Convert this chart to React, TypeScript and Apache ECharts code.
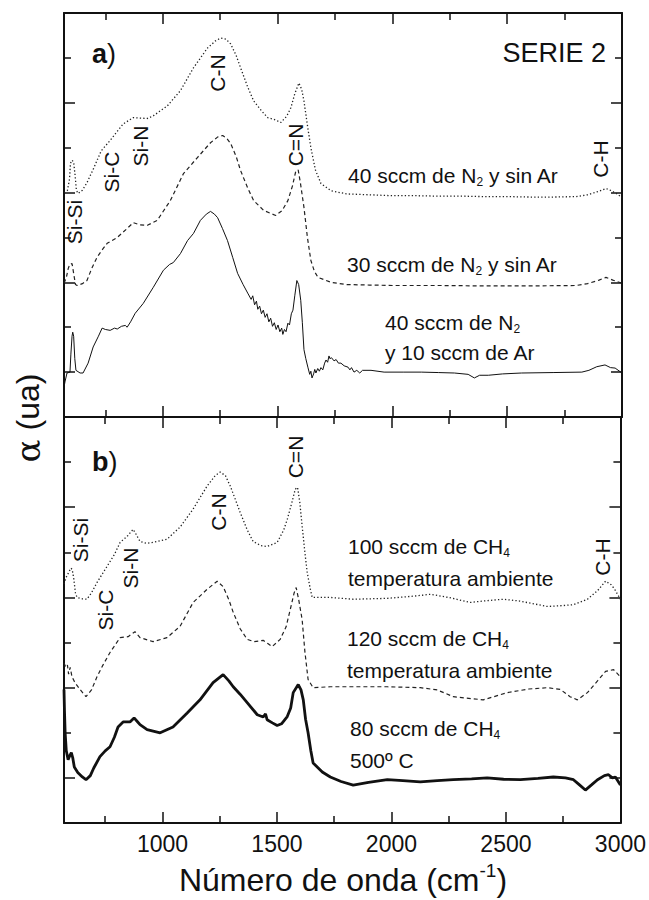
import React, { useEffect, useRef } from "react";
import * as echarts from "echarts";

// ---- axis extents and ticks ----
const X_MIN = 570;
const X_MAX = 3000;
const X_TICK_LABELS = [1000, 1500, 2000, 2500, 3000];
const X_MINOR_TICKS = [750, 1250, 1750, 2250, 2750];
const Y_MIN = 0;
const Y_MAX = 9;
const Y_MAJOR_TICKS = [1, 3, 5, 7];
const Y_MINOR_TICKS = [2, 4, 6, 8];

// ---- panel a) ----
const a_N2_40_sinAr = [
  [570, 5.0], [585, 5.05], [594, 5.3], [598, 5.65], [605, 5.72], [612, 5.68], [618, 5.4], [624, 5.05], [631, 4.98],
  [650, 5.05], [670, 5.22], [700, 5.55], [732, 5.93], [771, 6.16], [800, 6.35], [828, 6.53], [872, 6.67],
  [900, 6.66], [933, 6.65], [959, 6.71], [1020, 6.93], [1077, 7.27], [1134, 7.78], [1195, 8.22], [1230, 8.38],
  [1252, 8.44], [1275, 8.42], [1296, 8.31], [1320, 8.05], [1339, 7.78], [1370, 7.35], [1396, 7.04], [1430, 6.82],
  [1457, 6.67], [1490, 6.62], [1514, 6.56], [1540, 6.7], [1558, 6.89], [1575, 7.2], [1593, 7.44], [1605, 7.3],
  [1615, 7.04], [1630, 6.5], [1645, 6.0], [1665, 5.5], [1689, 5.2], [1733, 5.04], [1800, 4.97], [1900, 4.95],
  [2000, 4.93], [2100, 4.93], [2200, 4.92], [2300, 4.92], [2400, 4.91], [2500, 4.91], [2600, 4.9], [2700, 4.9],
  [2800, 4.91], [2850, 4.95], [2900, 5.03], [2930, 5.09], [2950, 5.05], [2975, 4.98], [3000, 4.89],
];

const a_N2_30_sinAr = [
  [570, 2.98], [580, 3.1], [588, 3.3], [595, 3.4], [605, 3.42], [612, 3.2], [620, 2.95], [627, 2.93], [650, 2.97],
  [670, 3.04], [690, 3.3], [714, 3.56], [740, 3.75], [758, 3.87], [802, 4.0], [845, 4.2], [872, 4.33], [900, 4.28],
  [933, 4.27], [976, 4.38], [1033, 4.82], [1090, 5.42], [1151, 5.78], [1208, 6.11], [1240, 6.24], [1261, 6.27],
  [1280, 6.2], [1296, 6.09], [1320, 5.8], [1339, 5.49], [1370, 5.1], [1396, 4.82], [1440, 4.6], [1492, 4.49],
  [1520, 4.6], [1545, 4.82], [1565, 5.15], [1580, 5.49], [1590, 5.5], [1600, 5.2], [1615, 4.67], [1630, 4.0],
  [1645, 3.49], [1660, 3.25], [1676, 3.11], [1733, 3.0], [1800, 2.95], [1900, 2.94], [2000, 2.93], [2200, 2.93],
  [2400, 2.92], [2600, 2.92], [2800, 2.93], [2850, 2.97], [2900, 3.05], [2930, 3.11], [2960, 3.05], [3000, 2.98],
];

const a_N2_40_Ar_10 = [
  [570, 0.67], [575, 0.8], [583, 0.98], [596, 1.0], [600, 1.4], [605, 1.8], [608, 1.89], [612, 1.8], [617, 1.3],
  [622, 1.04], [640, 0.98], [653, 0.98], [675, 1.2], [697, 1.56], [720, 1.8], [736, 1.98], [750, 1.95], [771, 1.93],
  [790, 1.98], [802, 1.96], [820, 2.02], [837, 2.04], [845, 2.0], [860, 2.12], [880, 2.31], [915, 2.53], [959, 2.89],
  [1003, 3.27], [1030, 3.4], [1046, 3.44], [1077, 3.64], [1108, 3.93], [1134, 4.09], [1164, 4.38], [1190, 4.52],
  [1208, 4.58], [1225, 4.52], [1239, 4.44], [1260, 4.2], [1282, 3.93], [1305, 3.55], [1326, 3.2], [1350, 2.95],
  [1370, 2.76], [1385, 2.62], [1392, 2.7], [1400, 2.5], [1408, 2.58], [1414, 2.4], [1422, 2.47], [1430, 2.3],
  [1438, 2.38], [1446, 2.22], [1454, 2.3], [1462, 2.12], [1470, 2.2], [1478, 2.02], [1486, 2.1], [1494, 1.95],
  [1502, 2.05], [1510, 1.9], [1518, 1.98], [1523, 1.84], [1530, 1.95], [1537, 1.9], [1545, 2.09], [1552, 2.05],
  [1560, 2.3], [1567, 2.38], [1575, 2.7], [1584, 3.04], [1592, 2.95], [1601, 2.6], [1608, 2.1], [1615, 1.5],
  [1623, 1.3], [1632, 1.11], [1640, 0.95], [1645, 1.02], [1650, 0.87], [1657, 0.96], [1662, 1.06], [1667, 0.98],
  [1675, 1.08], [1682, 1.02], [1689, 1.1], [1697, 1.05], [1705, 1.2], [1711, 1.27], [1718, 1.22], [1724, 1.36],
  [1728, 1.3], [1735, 1.32], [1746, 1.25], [1755, 1.28], [1765, 1.2], [1776, 1.2], [1790, 1.14], [1807, 1.11],
  [1815, 1.05], [1822, 1.1], [1833, 1.0], [1845, 1.04], [1858, 0.98], [1870, 1.04], [1907, 1.04], [1964, 1.0],
  [2050, 1.0], [2126, 1.0], [2200, 0.99], [2270, 0.98], [2330, 0.95], [2357, 0.87], [2380, 0.93], [2418, 0.93],
  [2480, 0.96], [2563, 0.98], [2700, 0.99], [2825, 1.0], [2856, 1.04], [2890, 1.12], [2926, 1.16], [2950, 1.1],
  [2970, 1.09], [3000, 0.98],
];

// ---- panel b) ----
const b_CH4_100 = [
  [570, 5.3], [580, 5.45], [590, 5.55], [600, 5.65], [606, 5.62], [613, 5.4], [620, 5.1], [627, 5.0], [650, 4.97],
  [670, 4.96], [690, 5.1], [714, 5.33], [758, 5.69], [790, 5.95], [815, 6.22], [845, 6.35], [872, 6.51], [885, 6.4],
  [902, 6.24], [930, 6.2], [959, 6.22], [1020, 6.29], [1077, 6.56], [1134, 6.96], [1195, 7.47], [1230, 7.7],
  [1252, 7.78], [1275, 7.7], [1296, 7.47], [1320, 7.15], [1339, 6.89], [1370, 6.5], [1396, 6.24], [1430, 6.15],
  [1457, 6.13], [1501, 6.22], [1530, 6.5], [1545, 6.73], [1565, 7.1], [1580, 7.4], [1590, 7.44], [1600, 7.1],
  [1610, 6.58], [1622, 6.0], [1632, 5.56], [1645, 5.2], [1654, 5.0], [1733, 5.0], [1833, 4.96], [1982, 4.98],
  [2100, 5.03], [2170, 5.07], [2250, 5.0], [2344, 4.89], [2420, 4.93], [2489, 4.96], [2560, 4.92], [2681, 4.8],
  [2750, 4.82], [2795, 4.84], [2856, 4.96], [2900, 5.15], [2935, 5.36], [2960, 5.28], [2975, 5.18], [3000, 4.96],
];

const b_CH4_120 = [
  [570, 3.55], [578, 3.45], [585, 3.5], [590, 3.3], [597, 3.45], [605, 3.24], [618, 3.11], [640, 2.96], [666, 2.8],
  [690, 2.95], [714, 3.24], [740, 3.5], [771, 3.78], [815, 4.11], [850, 4.13], [880, 4.24], [902, 4.11], [959, 4.02],
  [1020, 4.11], [1077, 4.36], [1134, 4.89], [1195, 5.18], [1239, 5.36], [1265, 5.24], [1290, 4.95], [1309, 4.67],
  [1340, 4.3], [1370, 4.07], [1400, 4.02], [1440, 4.05], [1460, 3.98], [1479, 3.91], [1514, 4.07], [1540, 4.35],
  [1558, 4.73], [1575, 5.1], [1584, 5.22], [1595, 4.95], [1610, 4.51], [1622, 3.8], [1636, 3.18], [1658, 3.0],
  [1733, 3.02], [1850, 3.02], [1982, 3.02], [2126, 3.0], [2200, 2.95], [2270, 2.8], [2401, 2.73], [2506, 2.89],
  [2600, 2.97], [2681, 3.0], [2738, 2.96], [2780, 2.8], [2812, 2.73], [2856, 2.89], [2900, 3.15], [2935, 3.36],
  [2970, 3.4], [3000, 3.24],
];

const b_CH4_80_500C = [
  [570, 2.96], [572, 2.5], [575, 2.0], [580, 1.6], [588, 1.4], [596, 1.5], [602, 1.56], [608, 1.45], [615, 1.24],
  [630, 1.12], [650, 1.02], [666, 0.96], [685, 1.05], [700, 1.22], [727, 1.47], [750, 1.6], [771, 1.69], [790, 1.9],
  [806, 2.13], [828, 2.24], [858, 2.24], [876, 2.33], [890, 2.25], [902, 2.18], [933, 2.07], [990, 2.0], [1046, 2.13],
  [1108, 2.44], [1164, 2.73], [1221, 3.11], [1265, 3.29], [1290, 3.15], [1309, 3.02], [1340, 2.85], [1370, 2.67],
  [1414, 2.4], [1440, 2.35], [1450, 2.42], [1457, 2.29], [1480, 2.22], [1501, 2.16], [1520, 2.2], [1545, 2.36],
  [1560, 2.55], [1571, 2.89], [1593, 3.07], [1605, 2.95], [1615, 2.73], [1625, 2.3], [1636, 2.0], [1648, 1.6],
  [1658, 1.33], [1698, 1.13], [1733, 1.02], [1780, 0.92], [1833, 0.84], [1900, 0.9], [1982, 0.96], [2050, 0.94],
  [2126, 0.91], [2200, 0.94], [2270, 0.96], [2350, 0.98], [2418, 1.0], [2490, 0.97], [2563, 0.96], [2640, 0.99],
  [2707, 1.02], [2760, 1.0], [2795, 0.96], [2820, 0.85], [2847, 0.73], [2875, 0.85], [2900, 0.96], [2930, 1.05],
  [2948, 1.07], [2965, 1.0], [2978, 1.02], [3000, 0.84],
];

const FONT = "'Liberation Sans', Arial, Helvetica, sans-serif";
const INK = "#111";

function xAxisDef(grid: number, position: string, ticks: number[], len: number, showLine: boolean, showLabels: boolean) {
  return {
    type: "value",
    gridIndex: grid,
    position,
    min: X_MIN,
    max: X_MAX,
    axisLine: { show: showLine, onZero: false, lineStyle: { color: INK, width: 2 } },
    axisTick: { show: true, inside: true, length: len, customValues: ticks, lineStyle: { color: INK, width: 1.5 } },
    axisLabel: showLabels
      ? {
          show: true,
          customValues: X_TICK_LABELS,
          formatter: (v: number) => String(v),
          color: INK,
          fontSize: 23,
          fontFamily: FONT,
          margin: 9,
        }
      : { show: false },
    splitLine: { show: false },
  };
}

function yAxisDef(grid: number, position: string, ticks: number[], len: number, showLine: boolean) {
  return {
    type: "value",
    gridIndex: grid,
    position,
    min: Y_MIN,
    max: Y_MAX,
    axisLine: { show: showLine, onZero: false, lineStyle: { color: INK, width: 2 } },
    axisTick: { show: true, inside: true, length: len, customValues: ticks, lineStyle: { color: INK, width: 1.5 } },
    axisLabel: { show: false },
    splitLine: { show: false },
  };
}

function axesFor(grid: number, labels: boolean) {
  const xs = [
    xAxisDef(grid, "bottom", X_TICK_LABELS, 11, true, labels),
    xAxisDef(grid, "bottom", X_MINOR_TICKS, 7, false, false),
    xAxisDef(grid, "top", X_TICK_LABELS, 11, true, false),
    xAxisDef(grid, "top", X_MINOR_TICKS, 7, false, false),
  ];
  const ys = [
    yAxisDef(grid, "left", Y_MAJOR_TICKS, 11, true),
    yAxisDef(grid, "left", Y_MINOR_TICKS, 7, false),
    yAxisDef(grid, "right", Y_MAJOR_TICKS, 11, true),
    yAxisDef(grid, "right", Y_MINOR_TICKS, 7, false),
  ];
  return { xs, ys };
}

function line(name: string, data: number[][], grid: number, lineStyle: any) {
  return {
    name,
    type: "line",
    xAxisIndex: grid * 4,
    yAxisIndex: grid * 4,
    data,
    symbol: "none",
    showSymbol: false,
    silent: true,
    lineStyle,
    z: 3,
  };
}

const DOTTED = { color: "#222", width: 1.3, type: [1.3, 2.2] };
const DASHED = { color: "#222", width: 1.2, type: [4, 3] };
const THIN = { color: "#111", width: 1 };
const THICK = { color: "#111", width: 2.8 };

const subRich = {
  sub: { fontSize: 12, fontFamily: FONT, fill: INK, verticalAlign: "bottom", lineHeight: 14 },
};

function txt(x: number, y: number, text: string, size: number, extra: any = {}) {
  return {
    type: "text",
    x,
    y,
    rotation: extra.rotation || 0,
    silent: true,
    z: 10,
    style: {
      text,
      fontSize: size,
      fontFamily: FONT,
      fontWeight: extra.fontWeight || "normal",
      fill: INK,
      align: extra.align || "left",
      verticalAlign: "middle",
      lineHeight: extra.lineHeight || size + 4,
      rich: extra.rich,
    },
  };
}

function peak(x: number, y: number, text: string) {
  return txt(x, y, text, 21, { rotation: Math.PI / 2, align: "center" });
}

function series(name: string, x: number, y: number) {
  return txt(x, y, name, 21, { rich: subRich, lineHeight: 26 });
}

export default function App() {
  const ref = useRef<HTMLDivElement>(null);

  useEffect(() => {
    if (!ref.current) return;
    const chart = echarts.init(ref.current, null, { renderer: "svg" });
    const A = axesFor(0, false);
    const B = axesFor(1, true);

    const option: any = {
      animation: false,
      backgroundColor: "#fff",
      grid: [
        { left: 64, top: 13, width: 558, height: 404 },
        { left: 64, top: 417, width: 558, height: 406 },
      ],
      xAxis: [...A.xs, ...B.xs],
      yAxis: [...A.ys, ...B.ys],
      series: [
        line("40 sccm de N2 y sin Ar", a_N2_40_sinAr, 0, DOTTED),
        line("30 sccm de N2 y sin Ar", a_N2_30_sinAr, 0, DASHED),
        line("40 sccm de N2 y 10 sccm de Ar", a_N2_40_Ar_10, 0, THIN),
        line("100 sccm de CH4 temperatura ambiente", b_CH4_100, 1, DOTTED),
        line("120 sccm de CH4 temperatura ambiente", b_CH4_120, 1, DASHED),
        line("80 sccm de CH4 500º C", b_CH4_80_500C, 1, THICK),
      ],
      graphic: [
        // panel labels
        txt(92, 54, "{b|a}{p|)}", 27, {
          rich: {
            b: { fontSize: 27, fontWeight: "bold", fontFamily: FONT, fill: INK },
            p: { fontSize: 27, fontFamily: FONT, fill: INK },
          },
        }),
        txt(92, 462, "{b|b}{p|)}", 27, {
          rich: {
            b: { fontSize: 27, fontWeight: "bold", fontFamily: FONT, fill: INK },
            p: { fontSize: 27, fontFamily: FONT, fill: INK },
          },
        }),
        txt(606, 53, "SERIE 2", 27, { align: "right" }),
        // peak assignments, panel a
        peak(74, 222, "Si-Si"),
        peak(111, 172, "Si-C"),
        peak(140, 146, "Si-N"),
        peak(217, 73, "C-N"),
        peak(295, 145, "C=N"),
        peak(600, 159, "C-H"),
        // peak assignments, panel b
        peak(80, 540, "Si-Si"),
        peak(105, 610, "Si-C"),
        peak(130, 568, "Si-N"),
        peak(218, 512, "C-N"),
        peak(295, 457, "C=N"),
        peak(602, 557, "C-H"),
        // curve labels, panel a
        series("40 sccm de N{sub|2} y sin Ar", 348, 175),
        series("30 sccm de N{sub|2} y sin Ar", 347, 264),
        series("40 sccm de N{sub|2}", 385, 322),
        series("y 10 sccm de Ar", 385, 352),
        // curve labels, panel b
        series("100 sccm de CH{sub|4}", 348, 546),
        series("temperatura ambiente", 348, 578),
        series("120 sccm de CH{sub|4}", 347, 638),
        series("temperatura ambiente", 347, 670),
        series("80 sccm de CH{sub|4}", 350, 728),
        series("500º C", 350, 760),
        // axis titles
        txt(343, 880, "Número de onda (cm{sup|-1})", 32, {
          align: "center",
          lineHeight: 38,
          rich: { sup: { fontSize: 19, fontFamily: FONT, fill: INK, verticalAlign: "top", lineHeight: 20 } },
        }),
        txt(28, 418, "{g|α} (ua)", 32, {
          align: "center",
          rotation: Math.PI / 2,
          rich: { g: { fontSize: 34, fontFamily: "'DejaVu Serif', 'Liberation Serif', serif", fill: INK } },
        }),
      ],
    };
    chart.setOption(option);
    return () => chart.dispose();
  }, []);

  return (
    <div
      ref={ref}
      style={{ position: "absolute", left: 0, top: 0, width: 649, height: 900, background: "#fff" }}
    />
  );
}
